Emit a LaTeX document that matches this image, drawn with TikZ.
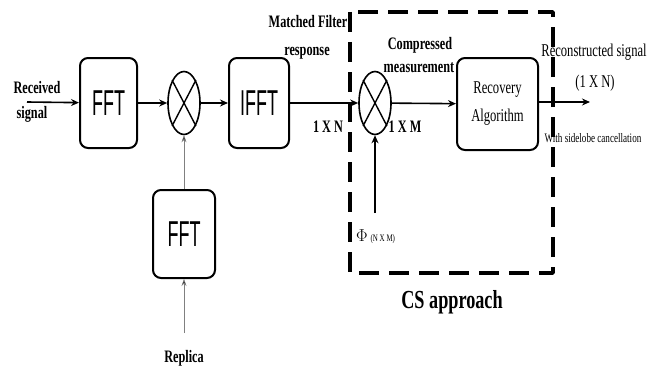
\documentclass[tikz,border=0pt]{standalone}
\usepackage{fontspec}
\usetikzlibrary{shapes.geometric,arrows.meta}
\setmainfont[FakeStretch=0.7]{Liberation Serif}
\newfontfamily\blocksans[FakeStretch=0.5]{Liberation Sans}
\begin{document}
\begin{tikzpicture}[x=1pt, y=-1pt, line join=round, >={Stealth[length=8pt,width=7pt]},
	block/.style={draw, line width=2pt, rounded corners=8pt, inner sep=0pt},
	mixer/.style={draw, ellipse, line width=1.6pt, minimum width=32pt, minimum height=63pt, inner sep=0pt},
	sig/.style={->, line width=1.6pt},
	ref/.style={->, line width=0.6pt, draw=gray},
	lab/.style={font=\fontsize{17.5}{19}\selectfont\bfseries, inner sep=0pt}]
	\useasboundingbox (0,0) rectangle (660,369);
	\node[block, minimum width=57pt, minimum height=90pt, font=\fontsize{36}{36}\blocksans] (fftA) at (108.5,103) {FFT};
	\node[mixer] (mixA) at (184,103) {};
	\node[block, minimum width=60pt, minimum height=90pt, font=\fontsize{36}{36}\blocksans] (ifft) at (259,103) {IFFT};
	\node[mixer] (mixB) at (375,103) {};
	\node[block, minimum width=81pt, minimum height=92pt, align=center, font=\fontsize{18}{28}\selectfont] (recov) at (497.5,104) {Recovery\\Algorithm};
	\node[block, minimum width=62pt, minimum height=88pt, font=\fontsize{36}{36}\blocksans] (fftB) at (184,234) {FFT};
	\foreach \m in {mixA,mixB} {
		\draw[line width=1.4pt] (\m.north east)--(\m.south west);
		\draw[line width=1.4pt] (\m.north west)--(\m.south east);
	}
	\coordinate (in) at (27,102);
	\coordinate (out) at (590,102);
	\coordinate (phi) at (375,213);
	\coordinate (replica) at (184,333);
	\draw[sig] (in)--(fftA);
	\draw[sig] (fftA)--(mixA);
	\draw[sig] (mixA)--(ifft);
	\draw[sig] (ifft)--(mixB);
	\draw[sig] (mixB)--(recov);
	\draw[sig] (recov.east|-out)--(out);
	\draw[sig] (phi)--(mixB);
	\draw[ref, -{Stealth[length=7pt,width=5pt,fill=black]}] (fftB)--(mixA);
	\draw[ref, -{Stealth[length=7pt,width=5pt,fill=black]}] (replica)--(fftB);
	\draw[line width=3.5pt, dash pattern=on 20pt off 10pt] (350,12) rectangle (553,273);
	\node[lab] (recA) at (37,88) {Received};
	\node[lab] (recB) at (32,114) {signal};
	\node[lab] (mfA) at (308,22) {Matched Filter};
	\node[lab] (mfB) at (307,53) {response};
	\node[lab] (nA) at (328,127) {1 X N};
	\node[lab] (cmA) at (420,45) {Compressed};
	\node[lab] (cmB) at (419,68) {measurement};
	\node[lab] (nM) at (405,127) {1 X M};
	\node[lab, font=\fontsize{18}{20}\selectfont] (rsA) at (594,52) {Reconstructed signal};
	\node[lab, font=\fontsize{18}{20}\selectfont] (rsB) at (595,83) {(1 X N)};
	\node[lab, font=\fontsize{13}{15}\selectfont] (side) at (593,138) {With sidelobe cancellation};
	\node[lab, font=\fontsize{17}{19}\selectfont, anchor=west] (phiL) at (356,237) {$\Phi$\,{\fontsize{10}{12}\selectfont (N X M)}};
	\node[lab, font=\fontsize{26}{28}\selectfont\bfseries] (cs) at (452,302) {CS approach};
	\node[lab] (rep) at (184,358) {Replica};
\end{tikzpicture}
\end{document}
